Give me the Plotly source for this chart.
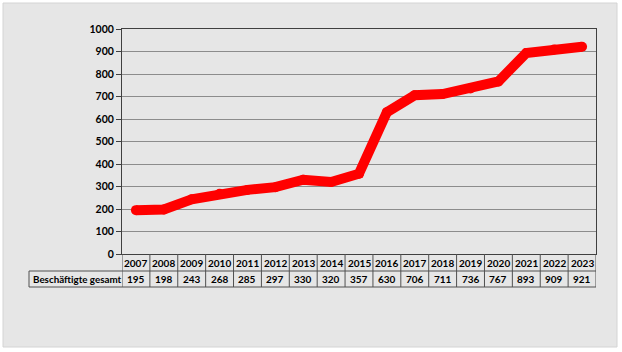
import plotly.graph_objects as go

years = ["2007", "2008", "2009", "2010", "2011", "2012", "2013", "2014", "2015",
         "2016", "2017", "2018", "2019", "2020", "2021", "2022", "2023"]
values = [195, 198, 243, 268, 285, 297, 330, 320, 357, 630, 706, 711, 736, 767, 893, 909, 921]
row_label = "Beschäftigte gesamt"
y_ticks = list(range(0, 1001, 100))

W, H = 622, 352
L, R, T, B = 122, 26, 29, 98
pw, ph = W - L - R, H - T - B

def px_x(x):  # pixel -> paper x
    return (x - L) / pw

def px_y(y):  # pixel -> paper y
    return (H - B - y) / ph

FONT = "Lato, 'Open Sans', sans-serif"
n = len(years)
xs = list(range(n))

fig = go.Figure()
fig.add_trace(go.Scatter(
    x=xs, y=values, mode="lines+markers",
    line=dict(color="#ff0000", width=10),
    marker=dict(color="#ff0000", size=10),
    hoverinfo="skip", showlegend=False,
))

shapes = []
# gray panel
shapes.append(dict(type="rect", xref="paper", yref="paper",
                   x0=px_x(3), x1=px_x(617), y0=px_y(347), y1=px_y(3),
                   fillcolor="#e6e6e6", line=dict(color="#d4d4d4", width=1), layer="below"))

tbl_line = dict(color="#505050", width=1)
row1_bot = px_y(271)
row2_bot = px_y(287)
# vertical cell borders
for i in range(n + 1):
    shapes.append(dict(type="line", xref="x", yref="paper",
                       x0=i - 0.5, x1=i - 0.5, y0=0, y1=row2_bot, line=tbl_line))
# horizontal borders
for yy in (row1_bot, row2_bot):
    shapes.append(dict(type="line", xref="paper", yref="paper",
                       x0=px_x(29), x1=1, y0=yy, y1=yy, line=tbl_line))
# label cell left border
shapes.append(dict(type="line", xref="paper", yref="paper",
                   x0=px_x(29), x1=px_x(29), y0=row1_bot, y1=row2_bot, line=tbl_line))

annotations = []
ymid1 = px_y(262.5)
ymid2 = px_y(279)
for i, (yr, v) in enumerate(zip(years, values)):
    annotations.append(dict(x=i, y=ymid1, xref="x", yref="paper", text="<b>%s</b>" % yr,
                            showarrow=False, xanchor="center", yanchor="middle",
                            font=dict(family=FONT, size=10, color="#000")))
    annotations.append(dict(x=i, y=ymid2, xref="x", yref="paper", text="<b>%d</b>" % v,
                            showarrow=False, xanchor="center", yanchor="middle",
                            font=dict(family=FONT, size=10, color="#000")))
annotations.append(dict(x=px_x(31), y=ymid2, xref="paper", yref="paper",
                        text="<b>%s</b>" % row_label, showarrow=False,
                        xanchor="left", yanchor="middle",
                        font=dict(family=FONT, size=9.8, color="#000")))

fig.update_layout(
    width=W, height=H,
    margin=dict(l=L, r=R, t=T, b=B, pad=0),
    paper_bgcolor="#ffffff", plot_bgcolor="rgba(0,0,0,0)",
    shapes=shapes, annotations=annotations,
    showlegend=False,
    xaxis=dict(range=[-0.5, n - 0.5], showticklabels=False, showgrid=False,
               zeroline=False, showline=True, linecolor="#404040", linewidth=1,
               mirror=True, ticks=""),
    yaxis=dict(range=[0, 1000], tickvals=y_ticks, ticktext=["<b>%d</b>" % t for t in y_ticks],
               showgrid=True, gridcolor="#8c8c8c", gridwidth=1, zeroline=False,
               showline=True, linecolor="#404040", linewidth=1, mirror=True,
               ticks="outside", ticklen=5, tickcolor="#404040",
               tickfont=dict(family=FONT, size=10.5, color="#000")),
)

fig.write_html("out.html")
